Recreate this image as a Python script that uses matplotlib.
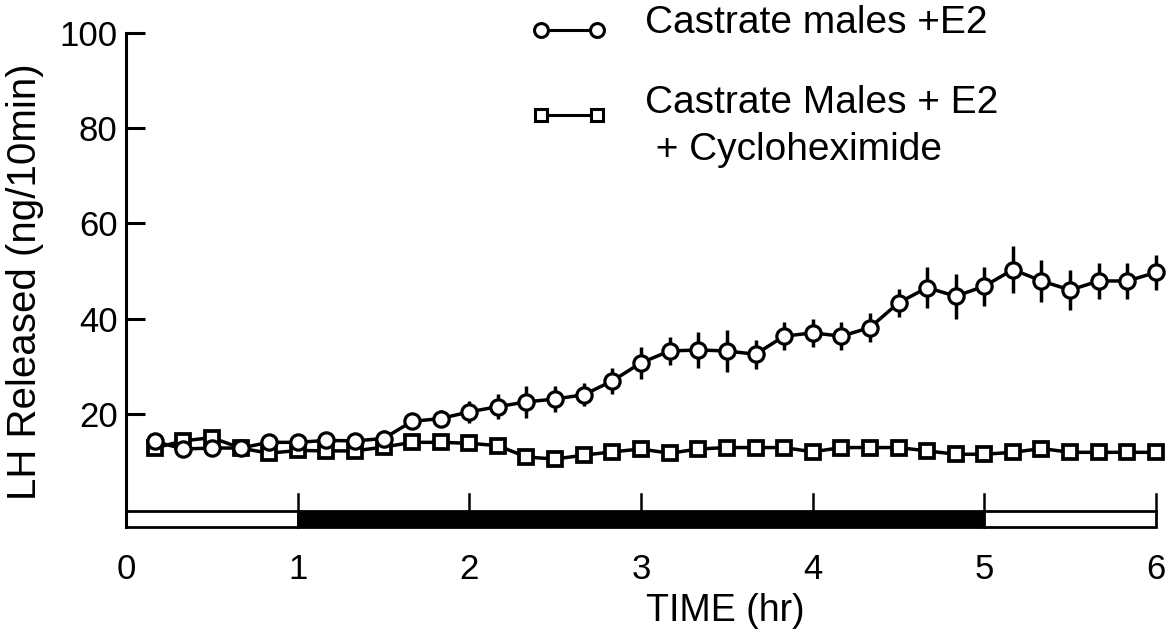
import matplotlib
matplotlib.use("Agg")
import matplotlib.pyplot as plt
from matplotlib.patches import Rectangle
from matplotlib.lines import Line2D

plt.rcParams['font.family'] = ['Liberation Sans', 'DejaVu Sans']

# ---- data ----
time_hr = [0.167, 0.333, 0.5, 0.667, 0.833, 1.0, 1.167, 1.333, 1.5, 1.667,
           1.833, 2.0, 2.167, 2.333, 2.5, 2.667, 2.833, 3.0, 3.167, 3.333,
           3.5, 3.667, 3.833, 4.0, 4.167, 4.333, 4.5, 4.667, 4.833, 5.0,
           5.167, 5.333, 5.5, 5.667, 5.833, 6.0]

e2_mean = [14.2, 12.6, 12.8, 12.8, 14.0, 14.0, 14.4, 14.3, 14.8, 18.4,
           19.0, 20.4, 21.5, 22.5, 23.1, 24.0, 26.9, 30.7, 33.2, 33.4,
           33.2, 32.5, 36.3, 37.0, 36.3, 38.1, 43.3, 46.5, 44.7, 46.8,
           50.3, 47.9, 46.0, 47.9, 47.9, 49.7]
e2_sem = [0.8, 0.8, 0.8, 0.8, 0.8, 0.8, 0.8, 0.8, 1.8, 1.5,
          1.75, 2.3, 2.6, 3.4, 2.8, 2.4, 2.8, 3.3, 2.9, 3.7,
          4.4, 3.0, 2.9, 3.0, 3.0, 3.0, 2.9, 4.3, 4.7, 4.1,
          4.9, 4.5, 4.3, 3.8, 3.7, 3.7]

chx_mean = [12.8, 14.3, 15.0, 12.8, 11.7, 12.3, 12.2, 12.2, 13.0, 14.0,
            14.0, 13.8, 13.3, 10.9, 10.5, 11.3, 12.0, 12.6, 11.7, 12.6,
            12.9, 12.9, 12.9, 12.0, 12.9, 12.9, 12.9, 12.2, 11.5, 11.5,
            11.9, 12.7, 11.9, 11.9, 11.9, 11.9]

x_ticks = [0, 1, 2, 3, 4, 5, 6]
y_ticks = [20, 40, 60, 80, 100]
# light/dark schedule bar: (start, end, colour)
phases = [(0, 1, 'white'), (1, 5, 'black'), (5, 6, 'white')]

label_e2 = "Castrate males +E2"
label_chx1 = "Castrate Males + E2"
label_chx2 = " + Cycloheximide"

# ---- figure ----
W, H = 1171, 637
fig = plt.figure(figsize=(W / 100, H / 100), dpi=100)
ax = fig.add_axes([126 / W, 1 - 528 / H, 1030 / W, 495 / H])
ax.set_xlim(0, 6)
ax.set_ylim(-4, 100)

lw = 2.5
ax.errorbar(time_hr, e2_mean, yerr=e2_sem, fmt='-o', color='black', lw=lw,
            elinewidth=2.5, capsize=0, ms=11, mfc='white', mec='black',
            mew=2.3, clip_on=False, zorder=4)
ax.plot(time_hr, chx_mean, '-s', color='black', lw=lw, ms=10.5, mfc='white',
        mec='black', mew=2.7, clip_on=False, zorder=3)

# schedule bar
for (s, e, c) in phases:
    ax.add_patch(Rectangle((s, -3.8), e - s, 3.3, facecolor=c,
                           edgecolor='black', lw=2.0, clip_on=False, zorder=2))

for sp in ['top', 'right', 'bottom']:
    ax.spines[sp].set_visible(False)
ax.spines['left'].set_linewidth(2.2)
ax.spines['left'].set_bounds(-3.8, 100)

ax.set_yticks(y_ticks)
ax.set_yticklabels([str(v) for v in y_ticks], fontsize=25)
ax.tick_params(axis='y', direction='in', length=14, width=2.2, pad=6)

ax.set_xticks(x_ticks)
ax.set_xticklabels([str(v) for v in x_ticks], fontsize=25)
ax.tick_params(axis='x', length=0, pad=18)
for xv in x_ticks[1:]:
    ax.plot([xv, xv], [-0.5, 3.2], color='black', lw=1.8, clip_on=False)

ax.set_xlabel("TIME (hr)", fontsize=27)
ax.xaxis.set_label_coords((725 - 126) / 1030, (528 - 611) / 495)
ax.xaxis.label.set_va('center')
ax.set_ylabel("LH Released (ng/10min)", fontsize=29)
ax.yaxis.set_label_coords((25 - 126) / 1030, 0.497)
ax.yaxis.label.set_va('center')

# legend (manual)
def handle(y, marker, ms):
    l = Line2D([541 / W, 597 / W], [y, y], transform=fig.transFigure,
               color='black', lw=2.2, marker=marker, ms=ms, mfc='white',
               mec='black', mew=2.2)
    fig.add_artist(l)

handle(1 - 30 / H, 'o', 10)
handle(1 - 115 / H, 's', 9)
fig.text(645 / W, 1 - 33 / H, label_e2, fontsize=28, va='baseline')
fig.text(645 / W, 1 - 113 / H, label_chx1, fontsize=28, va='baseline')
fig.text(645 / W, 1 - 160 / H, label_chx2, fontsize=28, va='baseline')

fig.savefig("out.png", dpi=100)
